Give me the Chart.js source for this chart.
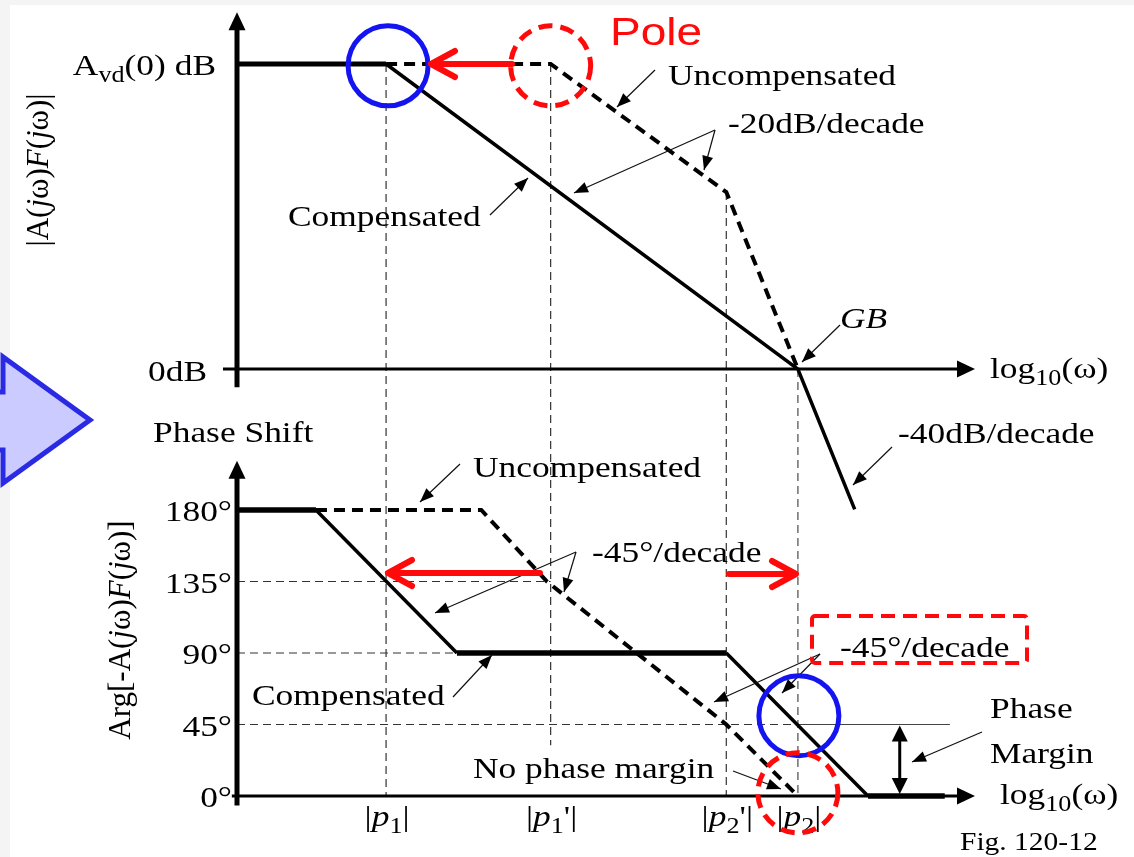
<!DOCTYPE html>
<html><head><meta charset="utf-8">
<script src="https://cdn.jsdelivr.net/npm/chart.js@4.4.1/dist/chart.umd.min.js"></script>
<style>html,body{margin:0;padding:0;background:#fff;overflow:hidden}canvas{display:block}</style>
</head><body><canvas id="c" width="1134" height="857"></canvas>
<script>
// ---------------- data (log10(ω) in decades, magnitude in dB, phase in degrees) ----------------
const poleNames = ['1', "1'", "2'", '2'];          // |p1|, |p1'|, |p2'|, |p2|
const poleX = [2.02, 4.25, 6.63, 7.60];             // p2 coincides with GB
const magTickValues = [100, 0];                     // A_vd(0) dB, 0dB
const phaseTickValues = [180, 135, 90, 45, 0];
const magCompX = [0, 2.02, 7.60, 8.37];
const magCompY = [100, 100, 0, -46];
const magUncX = [2.02, 4.25, 6.63, 7.60];
const magUncY = [100, 100, 58, 0];
const phCompX = [0, 1.07, 2.98, 6.63, 8.55, 9.59];
const phCompY = [180, 180, 90, 90, 0, 0];
const phUncX = [1.07, 3.31, 4.20, 6.63, 7.60];
const phUncY = [180, 180, 135, 45, 0];

// ---------------- layout ----------------
const area = {left: 237, right: 975, top: 12, bottom: 830};
const magRows = {hi: 64, lo: 369};
const phRows = {hi: 510, lo: 796};
function rangeFor(vHi, vLo, pHi, pLo) {
  const k = (pLo - pHi) / (vHi - vLo);
  return {max: vHi + (pHi - area.top) / k, min: vLo - (area.bottom - pLo) / k};
}
const magRange = rangeFor(magTickValues[0], magTickValues[1], magRows.hi, magRows.lo);
const phRange = rangeFor(180, 0, phRows.hi, phRows.lo);

const FONT = "'Liberation Serif','Times New Roman',serif";
const SX = 1.18;
const RED = '#ff0a0a', BLUE = '#1414f0';

function setFont(ctx, f, size, family) {
  const s = f.includes('s') ? size * 0.74 : size;
  ctx.font = (f.includes('i') ? 'italic ' : '') + s.toFixed(1) + 'px ' + (family || FONT);
}
function rich(ctx, parts, x, y, o = {}) {
  const size = o.size || 30, sx = o.sx ?? SX, align = o.align || 'left';
  ctx.save();
  ctx.fillStyle = o.color || '#000';
  ctx.textAlign = 'left';
  ctx.textBaseline = o.baseline || 'alphabetic';
  const w = parts.map(([t, f = '']) => { setFont(ctx, f, size, o.family); return ctx.measureText(t).width; });
  const total = w.reduce((a, b) => a + b, 0);
  ctx.translate(x, y);
  if (o.rot) ctx.rotate(o.rot);
  ctx.scale(sx, 1);
  let cx = align === 'right' ? -total : align === 'center' ? -total / 2 : 0;
  parts.forEach(([t, f = ''], i) => {
    setFont(ctx, f, size, o.family);
    ctx.fillText(t, cx, f.includes('s') ? size * 0.22 : 0);
    cx += w[i];
  });
  ctx.restore();
}
function seg(ctx, x1, y1, x2, y2, lw, color, dash) {
  ctx.save();
  ctx.strokeStyle = color || '#000'; ctx.lineWidth = lw;
  ctx.setLineDash(dash || []);
  ctx.beginPath(); ctx.moveTo(x1, y1); ctx.lineTo(x2, y2); ctx.stroke();
  ctx.restore();
}
function head(ctx, tx, ty, fx, fy, len, hw, color) {
  const a = Math.atan2(ty - fy, tx - fx);
  const bx = tx - len * Math.cos(a), by = ty - len * Math.sin(a);
  ctx.save(); ctx.fillStyle = color || '#000';
  ctx.beginPath();
  ctx.moveTo(tx, ty);
  ctx.lineTo(bx + hw * Math.sin(a), by - hw * Math.cos(a));
  ctx.lineTo(bx - hw * Math.sin(a), by + hw * Math.cos(a));
  ctx.closePath(); ctx.fill(); ctx.restore();
}
function leader(ctx, x1, y1, x2, y2) {
  seg(ctx, x1, y1, x2, y2, 1.2, '#111');
  head(ctx, x2, y2, x1, y1, 14, 5.5);
}
function redArrow(ctx, x1, y1, x2, y2) {
  const a = Math.atan2(y2 - y1, x2 - x1);
  ctx.save();
  ctx.strokeStyle = RED; ctx.lineWidth = 6; ctx.lineCap = 'round'; ctx.lineJoin = 'round';
  ctx.beginPath(); ctx.moveTo(x1, y1); ctx.lineTo(x2 - 3 * Math.cos(a), y2); ctx.stroke();
  const back = 24, spread = 13;
  ctx.beginPath();
  ctx.moveTo(x2 - back * Math.cos(a) + spread * Math.sin(a), y2 - spread);
  ctx.lineTo(x2, y2);
  ctx.lineTo(x2 - back * Math.cos(a) - spread * Math.sin(a), y2 + spread);
  ctx.stroke();
  ctx.restore();
}
function circle(ctx, cx, cy, r, color, dash) {
  ctx.save(); ctx.strokeStyle = color; ctx.lineWidth = 5; ctx.setLineDash(dash || []);
  ctx.beginPath(); ctx.arc(cx, cy, r, 0, Math.PI * 2); ctx.stroke(); ctx.restore();
}

const diagram = {
  id: 'diagram',
  beforeDraw(chart) {
    const ctx = chart.ctx;
    ctx.save();
    ctx.fillStyle = '#fff'; ctx.fillRect(0, 0, chart.width, chart.height);
    ctx.fillStyle = '#f4f4f4'; ctx.fillRect(0, 0, chart.width, 5); ctx.fillRect(0, 0, 10, chart.height);
    // blue block arrow on the left
    ctx.beginPath();
    ctx.moveTo(-30, 392); ctx.lineTo(3, 392); ctx.lineTo(3, 357); ctx.lineTo(90, 420);
    ctx.lineTo(3, 483); ctx.lineTo(3, 450); ctx.lineTo(-30, 450); ctx.closePath();
    ctx.fillStyle = '#cbcbff'; ctx.fill();
    ctx.strokeStyle = '#2a2ae4'; ctx.lineWidth = 5; ctx.lineJoin = 'miter'; ctx.stroke();
    ctx.restore();
  },
  beforeDatasetsDraw(chart) {
    const ctx = chart.ctx, X = chart.scales.x, M = chart.scales.yMag, P = chart.scales.yPh;
    const x0 = X.getPixelForValue(0), xEnd = X.getPixelForValue(10);
    const dash = [8, 5];
    // vertical guides at the poles
    const vTop = [[M, 100], [M, 100], [M, 58], [M, 0]];
    const vBot = [0, 32, 0, 0];
    poleX.forEach((v, i) => {
      const xp = X.getPixelForValue(v);
      seg(ctx, xp, vTop[i][0].getPixelForValue(vTop[i][1]), xp, P.getPixelForValue(vBot[i]),
          i === 3 ? 1.6 : 1.2, i === 3 ? '#777' : '#333', dash);
    });
    // horizontal phase guides
    seg(ctx, x0, P.getPixelForValue(135), X.getPixelForValue(poleX[1]), P.getPixelForValue(135), 1.2, '#333', dash);
    seg(ctx, x0, P.getPixelForValue(90), X.getPixelForValue(2.98), P.getPixelForValue(90), 1.2, '#333', dash);
    seg(ctx, x0, P.getPixelForValue(45), X.getPixelForValue(poleX[3]), P.getPixelForValue(45), 1.2, '#333', dash);
    seg(ctx, X.getPixelForValue(poleX[3]), P.getPixelForValue(45), X.getPixelForValue(9.66), P.getPixelForValue(45), 1.2, '#444');
    // axes
    const mTip = M.getPixelForValue(117), pTip = P.getPixelForValue(211);
    seg(ctx, x0, M.getPixelForValue(-6), x0, mTip + 14, 5);
    head(ctx, x0, mTip, x0, mTip + 20, 18, 8.5);
    seg(ctx, X.getPixelForValue(-0.19), M.getPixelForValue(0), xEnd - 14, M.getPixelForValue(0), 3);
    head(ctx, xEnd, M.getPixelForValue(0), xEnd - 20, M.getPixelForValue(0), 18, 8.5);
    seg(ctx, x0, P.getPixelForValue(-6), x0, pTip + 14, 5);
    head(ctx, x0, pTip, x0, pTip + 20, 18, 8.5);
    seg(ctx, X.getPixelForValue(-0.07), P.getPixelForValue(0), xEnd - 14, P.getPixelForValue(0), 3);
    head(ctx, xEnd, P.getPixelForValue(0), xEnd - 20, P.getPixelForValue(0), 18, 8.5);
    // tick labels
    rich(ctx, [['A'], ['vd', 's'], ['(0) dB']], 216, M.getPixelForValue(magTickValues[0]) + 11, {align: 'right'});
    rich(ctx, [['0dB']], 207, M.getPixelForValue(magTickValues[1]) + 12, {align: 'right'});
    phaseTickValues.forEach(v => rich(ctx, [[v + '°']], 232, P.getPixelForValue(v) + 11, {align: 'right'}));
    poleX.forEach((v, i) => {
      const n = poleNames[i];
      rich(ctx, [['|'], ['p', 'i'], [n[0], 's'], [n.slice(1)], ['|']], X.getPixelForValue(v) + 1, 826, {align: 'center'});
    });
  },
  afterDatasetsDraw(chart) {
    const ctx = chart.ctx, X = chart.scales.x, M = chart.scales.yMag, P = chart.scales.yPh;
    // axis titles
    rich(ctx, [['|A('], ['j', 'i'], ['ω)'], ['F', 'i'], ['('], ['j', 'i'], ['ω)|']], 40, 170,
         {rot: -Math.PI / 2, align: 'center', baseline: 'middle', sx: 1, size: 31});
    rich(ctx, [['Arg[-A('], ['j', 'i'], ['ω)'], ['F', 'i'], ['('], ['j', 'i'], ['ω)]']], 122, 630,
         {rot: -Math.PI / 2, align: 'center', baseline: 'middle', sx: 1, size: 31});
    rich(ctx, [['Phase Shift']], 153, 442);
    rich(ctx, [['log'], ['10', 's'], ['(ω)']], 990, 378);
    rich(ctx, [['log'], ['10', 's'], ['(ω)']], 1000, 804);
    // annotations, top panel
    rich(ctx, [['Pole']], 610, 45, {family: "'Liberation Sans',Arial,sans-serif", size: 39, color: RED});
    rich(ctx, [['Uncompensated']], 668, 85);
    rich(ctx, [['-20dB/decade']], 728, 133);
    rich(ctx, [['Compensated']], 288, 226);
    rich(ctx, [['GB', 'i']], 840, 328);
    rich(ctx, [['-40dB/decade']], 898, 443);
    leader(ctx, 655, 70, 617, 107);
    leader(ctx, 715, 130, 704, 170);
    leader(ctx, 715, 130, 574, 193);
    leader(ctx, 490, 215, 528, 178);
    leader(ctx, 840, 325, 802, 362);
    leader(ctx, 892, 447, 853, 485);
    // annotations, bottom panel
    rich(ctx, [['Uncompensated']], 473, 477);
    rich(ctx, [['-45°/decade']], 592, 562);
    rich(ctx, [['Compensated']], 252, 705);
    rich(ctx, [['-45°/decade']], 840, 657);
    rich(ctx, [['Phase']], 990, 718);
    rich(ctx, [['Margin']], 990, 763);
    rich(ctx, [['No phase margin']], 473, 778);
    rich(ctx, [['Fig. 120-12']], 960, 850, {size: 25});
    leader(ctx, 460, 464, 420, 502);
    leader(ctx, 576, 552, 564, 592);
    leader(ctx, 576, 552, 435, 613);
    leader(ctx, 453, 697, 492, 655);
    leader(ctx, 820, 654, 782, 693);
    leader(ctx, 820, 654, 714, 702);
    leader(ctx, 733, 771, 781, 789);
    leader(ctx, 982, 732, 912, 762);
    // phase margin double arrow
    const pmX = X.getPixelForValue(8.98), y45 = P.getPixelForValue(45), y0 = P.getPixelForValue(0);
    seg(ctx, pmX, y45 + 10, pmX, y0 - 10, 3);
    head(ctx, pmX, y45 + 1, pmX, y45 + 20, 16, 8);
    head(ctx, pmX, y0 - 2, pmX, y0 - 20, 16, 8);
    // highlight circles
    circle(ctx, X.getPixelForValue(poleX[0]) + 2, M.getPixelForValue(99.4), 40, BLUE);
    circle(ctx, X.getPixelForValue(poleX[1]), M.getPixelForValue(99.4), 40, RED, [14, 8]);
    circle(ctx, X.getPixelForValue(poleX[3]) + 1, P.getPixelForValue(50.5), 40, BLUE);
    circle(ctx, X.getPixelForValue(poleX[3]), P.getPixelForValue(2), 40, RED, [14, 8]);
    // red dashed box
    ctx.save(); ctx.strokeStyle = RED; ctx.lineWidth = 4; ctx.setLineDash([14, 8]);
    ctx.beginPath(); ctx.roundRect(812, 616, 215, 47, 3); ctx.stroke(); ctx.restore();
    // red arrows (pole movement)
    redArrow(ctx, 512, M.getPixelForValue(100), 431, M.getPixelForValue(100));
    redArrow(ctx, 540, 573, 388, 573);
    redArrow(ctx, 729, 574, 796, 574);
  }
};

const pts = (xs, ys) => xs.map((x, i) => ({x, y: ys[i]}));
const flatW = (thin, thick) => c => (c.p0.parsed.y === c.p1.parsed.y ? thick : thin);
const base = {pointRadius: 0, tension: 0, clip: false, borderColor: '#000', fill: false};

new Chart(document.getElementById('c'), {
  type: 'line',
  data: {
    datasets: [
      {...base, label: 'Compensated magnitude', data: pts(magCompX, magCompY), yAxisID: 'yMag',
       borderWidth: 3.5, segment: {borderWidth: flatW(3.5, 5)}},
      {...base, label: 'Uncompensated magnitude', data: pts(magUncX, magUncY), yAxisID: 'yMag',
       borderWidth: 4, borderDash: [11, 7]},
      {...base, label: 'Compensated phase', data: pts(phCompX, phCompY), yAxisID: 'yPh',
       borderWidth: 3.5, segment: {borderWidth: flatW(3.5, 5.5)}},
      {...base, label: 'Uncompensated phase', data: pts(phUncX, phUncY), yAxisID: 'yPh',
       borderWidth: 4, borderDash: [11, 7]}
    ]
  },
  options: {
    responsive: false, animation: false, devicePixelRatio: 1, events: [],
    layout: {padding: {left: area.left, right: 1134 - area.right, top: area.top, bottom: 857 - area.bottom}},
    plugins: {legend: {display: false}, tooltip: {enabled: false}},
    scales: {
      x: {type: 'linear', min: 0, max: 10, display: false},
      yMag: {type: 'linear', min: magRange.min, max: magRange.max, display: false},
      yPh: {type: 'linear', min: phRange.min, max: phRange.max, display: false}
    }
  },
  plugins: [diagram]
});
</script>
</body></html>
